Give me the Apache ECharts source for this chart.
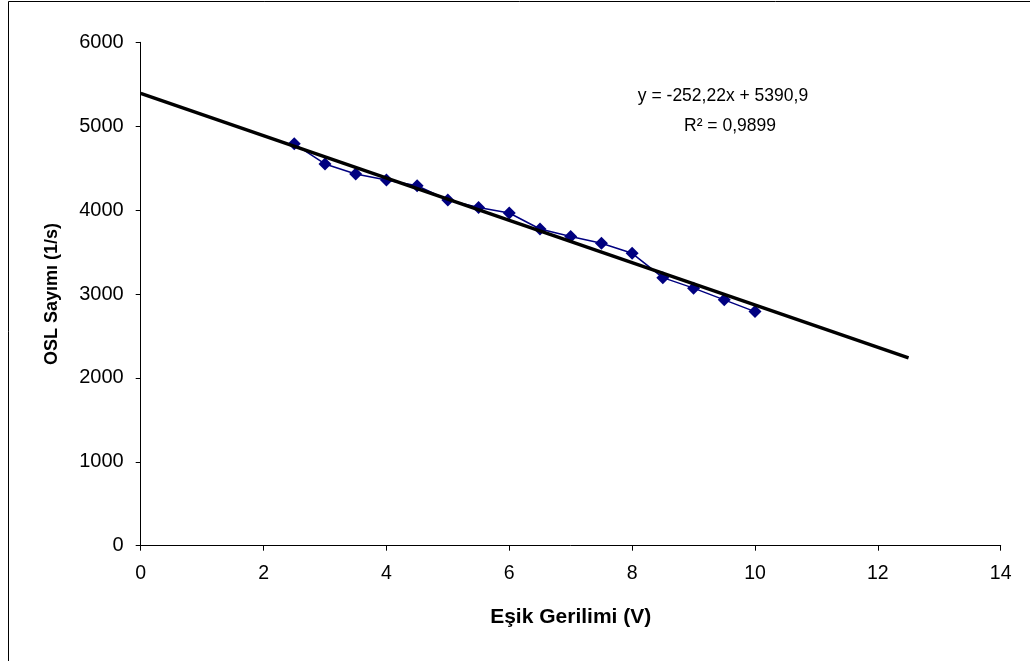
<!DOCTYPE html>
<html><head><meta charset="utf-8">
<script src="https://cdn.jsdelivr.net/npm/echarts@6/dist/echarts.min.js"></script>
<style>html,body{margin:0;padding:0;background:#fff}#c{width:1030px;height:661px}</style>
</head><body><div id="c"></div>
<script>
const xValues = [2.5, 3, 3.5, 4, 4.5, 5, 5.5, 6, 6.5, 7, 7.5, 8, 8.5, 9, 9.5, 10];
const yValues = [4790, 4550, 4430, 4360, 4290, 4120, 4030, 3965, 3775, 3685, 3605, 3485, 3195, 3070, 2930, 2790];
const trendX = [0, 12.5];
const trendY = [5390.9, 2238.2];
const xTicks = [0, 2, 4, 6, 8, 10, 12, 14];
const yTicks = [0, 1000, 2000, 3000, 4000, 5000, 6000];
const equationText = 'y = -252,22x + 5390,9';
const r2Text = 'R² = 0,9899';

const chart = echarts.init(document.getElementById('c'), null, {renderer: 'canvas'});
const font = 'Liberation Sans, Arial, sans-serif';
chart.setOption({
  animation: false,
  backgroundColor: '#fff',
  grid: {left: 140.7, right: 29.3, top: 42.3, bottom: 115.3, containLabel: false},
  xAxis: {
    type: 'value', min: xTicks[0], max: xTicks[xTicks.length - 1], interval: 2,
    axisLine: {show: true, onZero: false, lineStyle: {color: '#000', width: 1}},
    axisTick: {show: true, length: 5, lineStyle: {color: '#000'}},
    splitLine: {show: false},
    axisLabel: {color: '#000', fontFamily: font, fontSize: 19.5, margin: 18, formatter: v => String(v)},
    name: 'Eşik Gerilimi (V)', nameLocation: 'middle', nameGap: 61,
    nameTextStyle: {color: '#000', fontFamily: font, fontSize: 21, fontWeight: 'bold'}
  },
  yAxis: {
    type: 'value', min: yTicks[0], max: yTicks[yTicks.length - 1], interval: 1000,
    axisLine: {show: true, onZero: false, lineStyle: {color: '#000', width: 1}},
    axisTick: {show: true, length: 5, lineStyle: {color: '#000'}},
    splitLine: {show: false},
    axisLabel: {color: '#000', fontFamily: font, fontSize: 20, margin: 17, formatter: v => String(v)},
    name: 'OSL Sayımı (1/s)', nameLocation: 'middle', nameGap: 80, nameRotate: 90,
    nameTextStyle: {color: '#000', fontFamily: font, fontSize: 18, fontWeight: 'bold'}
  },
  series: [
    {
      type: 'line', data: xValues.map((x, i) => [x, yValues[i]]),
      lineStyle: {color: '#000080', width: 1.5},
      itemStyle: {color: '#000080'},
      symbol: 'diamond', symbolSize: 13, showSymbol: true, z: 2
    },
    {
      type: 'line', data: trendX.map((x, i) => [x, trendY[i]]),
      lineStyle: {color: '#000', width: 3.5},
      symbol: 'none', z: 3
    }
  ],
  graphic: [
    {type: 'rect', shape: {x: 8.5, y: 1.5, width: 1100, height: 1000}, style: {fill: 'none', stroke: '#000', lineWidth: 1}, silent: true, z: -1},
    {type: 'text', x: 723, y: 96, style: {text: equationText, font: '17.5px ' + font, fill: '#000', textAlign: 'center', textVerticalAlign: 'middle'}},
    {type: 'text', x: 730, y: 126, style: {text: r2Text, font: '17.5px ' + font, fill: '#000', textAlign: 'center', textVerticalAlign: 'middle'}}
  ]
});
</script></body></html>
